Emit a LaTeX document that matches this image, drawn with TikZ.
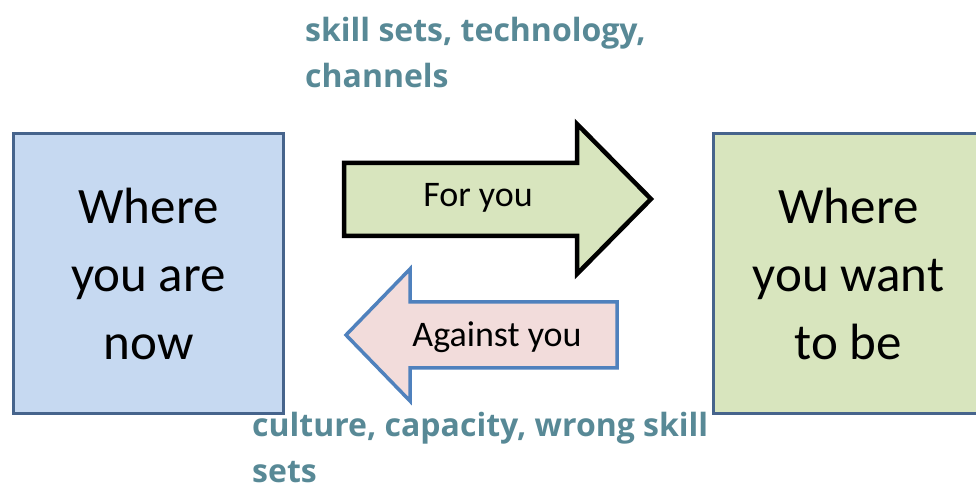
\documentclass[tikz,border=0pt]{standalone}
\usepackage{fontspec}
\setmainfont{Carlito}
\newfontfamily\labelfont{Open Sans}

\begin{document}
\begin{tikzpicture}[x=1pt, y=1pt,
  place/.style={draw=placeedge, line width=3.5pt, minimum width=270pt, minimum height=280pt,
    align=center, font=\fontsize{51}{68}\selectfont},
  factor/.style={anchor=north west, inner sep=0pt, align=left, text=factorteal,
    font=\labelfont\bfseries\fontsize{32}{46}\selectfont},
  arrowtext/.style={inner sep=0pt, font=\fontsize{36}{40}\selectfont}]
\definecolor{nowblue}{RGB}{198,217,241}
\definecolor{goalgreen}{RGB}{216,229,190}
\definecolor{againstpink}{RGB}{242,220,219}
\definecolor{placeedge}{RGB}{70,100,140}
\definecolor{againstedge}{RGB}{79,129,189}
\definecolor{factorteal}{RGB}{88,137,150}
\clip (0,0) rectangle (976,487);

% the two states
\node[place, fill=nowblue] (now) at (148.5,213.5) {Where\\you are\\now};
\node[place, fill=goalgreen] (goal) at (848.5,213.5) {Where\\you want\\to be};

% forces
\draw[fill=goalgreen, line width=4.5pt, line join=miter]
  (344,324) -- (577,324) -- (577,363) -- (651,288) -- (577,213) -- (577,251) -- (344,251) -- cycle;
\draw[fill=againstpink, draw=againstedge, line width=3.5pt, line join=miter]
  (617,185) -- (410,185) -- (410,218) -- (346,152) -- (410,86) -- (410,119) -- (617,119) -- cycle;
\node[arrowtext] (for) at (478,289) {For you};
\node[arrowtext] (against) at (497,150) {Against you};

\node[factor] (helps) at (305,470) {skill sets, technology,\\channels};
\node[factor] (hinders) at (252,75) {culture, capacity, wrong skill\\sets};
\end{tikzpicture}
\end{document}
